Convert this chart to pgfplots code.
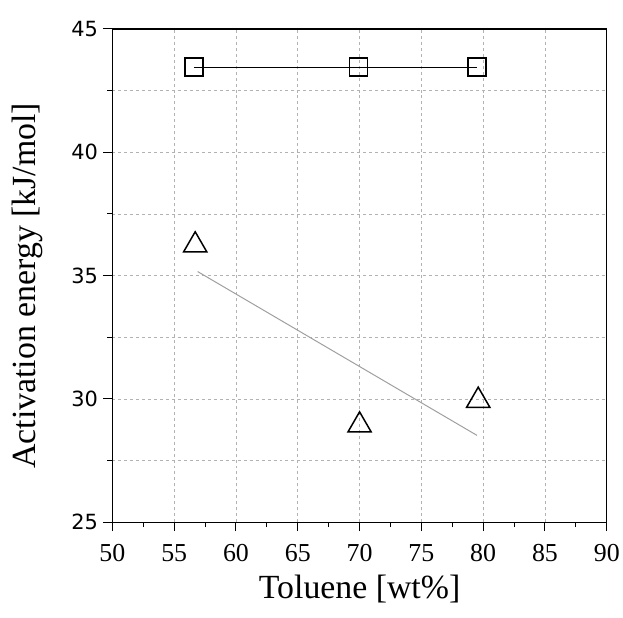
\documentclass[border=0pt]{standalone}
\usepackage{fontspec}
\setmainfont{Liberation Serif}
\newfontfamily\tickfont{DejaVu Sans}
\usepackage{pgfplots}
\pgfplotsset{compat=1.18}

\begin{document}
\begin{tikzpicture}
\begin{axis}[
  name=ax,
  scale only axis, width=497pt, height=496pt,
  xmin=50, xmax=90, ymin=25, ymax=45,
  xtick={50,55,...,90}, ytick={25,30,...,45},
  minor x tick num=1, minor y tick num=1,
  xtick pos=bottom, ytick pos=left, tick align=outside,
  major tick length=9pt, minor tick length=5pt,
  every tick/.style={black, line width=1pt},
  axis line style={line width=1.4pt},
  xmajorgrids, ymajorgrids, yminorgrids,
  grid style={dash pattern=on 3pt off 3pt, gray!60, line width=0.7pt},
  /pgf/number format/assume math mode=true,
  xticklabel style={font=\fontsize{26}{28}\selectfont, yshift=-10pt},
  yticklabel style={font=\tickfont\fontsize{21}{24}\selectfont, xshift=-2pt},
  xlabel={Toluene [wt\%]},
  ylabel={Activation energy [kJ/mol]},
  label style={font=\fontsize{34}{38}\selectfont},
  xlabel style={at={(axis description cs:0.5,-0.1550)}, anchor=base},
  ylabel style={at={(axis description cs:-0.1408,0.479)}, anchor=south, inner sep=0pt},
  clip=false,
]
\addplot[black, line width=0.8pt, mark=square, mark size=9pt,
  mark options={line width=1.5pt, fill=white}]
  coordinates {(56.6,43.45)(69.9,43.45)(79.5,43.45)};
\addplot[gray!75, line width=1pt, mark=none]
  coordinates {(56.9,35.16)(79.5,28.52)};
\addplot[only marks, mark=triangle, mark size=13.5pt,
  mark options={black, line width=1.5pt}]
  coordinates {(56.7,36.23)(70.0,28.93)(79.6,29.93)};
\end{axis}
\path ([xshift=-113pt,yshift=-96pt]ax.south west) rectangle ([xshift=13pt,yshift=29pt]ax.north east);
\end{tikzpicture}
\end{document}
